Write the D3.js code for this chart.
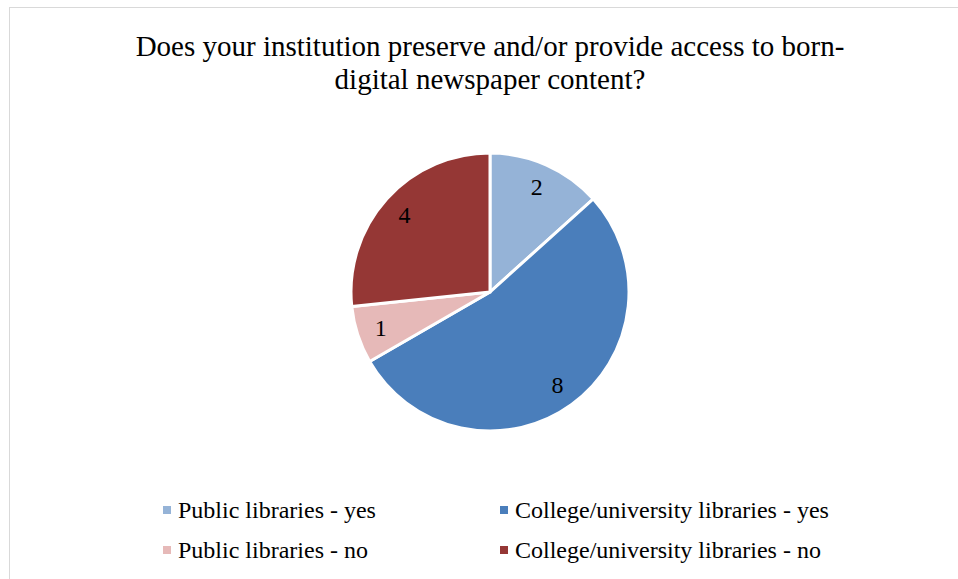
<!DOCTYPE html>
<html>
<head>
<meta charset="utf-8">
<script src="https://cdn.jsdelivr.net/npm/d3@7"></script>
<style>
  html, body { margin: 0; padding: 0; background: #fff; }
  svg { display: block; }
  text { font-family: "Liberation Serif", "Times New Roman", serif; fill: #000; }
</style>
</head>
<body>
<svg id="chart" width="958" height="579"></svg>
<script>
const titleLines = ["Does your institution preserve and/or provide access to born-", "digital newspaper content?"];
const categories = ["Public libraries - yes", "College/university libraries - yes", "Public libraries - no", "College/university libraries - no"];
const counts = [2, 8, 1, 4];
const colors = ["#95B3D7", "#4A7EBB", "#E6B9B8", "#953735"];

const svg = d3.select("#chart");

// chart frame
svg.append("rect")
  .attr("x", 9.5).attr("y", 7.5)
  .attr("width", 970).attr("height", 600)
  .attr("fill", "#fff").attr("stroke", "#d9d9d9").attr("stroke-width", 1);

// title
svg.append("text")
  .attr("text-anchor", "middle")
  .attr("font-size", 29)
  .selectAll("tspan").data(titleLines).join("tspan")
  .attr("x", 490).attr("y", (d, i) => 56 + i * 33)
  .text(d => d);

// pie
const cx = 490, cy = 292, R = 139;
const pie = d3.pie().sort(null).value(d => d.v);
const arcs = pie(categories.map((c, i) => ({ c, v: counts[i], col: colors[i] })));
const arc = d3.arc().innerRadius(0).outerRadius(R);
const labelArc = d3.arc().innerRadius(115).outerRadius(115);

const g = svg.append("g").attr("transform", `translate(${cx},${cy})`);
g.selectAll("path").data(arcs).join("path")
  .attr("d", arc)
  .attr("fill", d => d.data.col)
  .attr("stroke", "#fff").attr("stroke-width", 3).attr("stroke-linejoin", "miter");

g.selectAll("text.lbl").data(arcs).join("text")
  .attr("class", "lbl")
  .attr("transform", d => `translate(${labelArc.centroid(d)})`)
  .attr("text-anchor", "middle")
  .attr("dominant-baseline", "central")
  .attr("font-size", 24)
  .text(d => d.data.v);

// legend
const legendPos = [[163, 510], [500, 510], [163, 550], [500, 550]];
const lg = svg.append("g");
const items = lg.selectAll("g").data(categories).join("g")
  .attr("transform", (d, i) => `translate(${legendPos[i][0]},${legendPos[i][1]})`);
items.append("rect")
  .attr("x", 0).attr("y", -4).attr("width", 8).attr("height", 8)
  .attr("fill", (d, i) => colors[i]);
items.append("text")
  .attr("x", 15).attr("y", 0)
  .attr("dominant-baseline", "central")
  .attr("font-size", 24)
  .text(d => d);
</script>
</body>
</html>
